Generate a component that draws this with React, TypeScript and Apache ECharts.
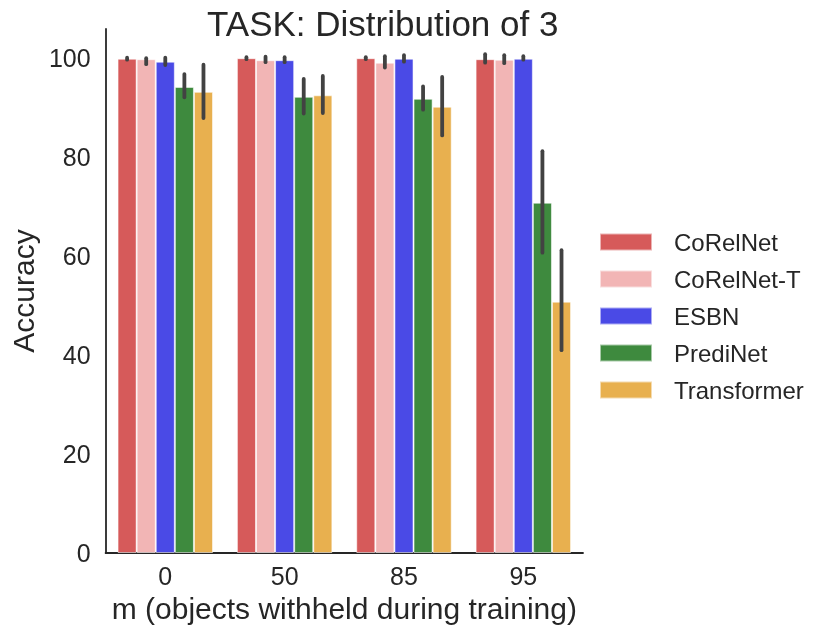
import React, { useEffect, useRef } from "react";
import * as echarts from "echarts";

const categories = ["0", "50", "85", "95"];
const models = ["CoRelNet", "CoRelNet-T", "ESBN", "PrediNet", "Transformer"];
const colors = ["#d65a5a", "#f2b5b5", "#4a4ae6", "#3e8a3e", "#e8b04f"];

const corelnet = [99.9, 100.0, 100.0, 99.8];
const corelnetLo = [99.7, 99.8, 99.8, 99.1];
const corelnetHi = [100.1, 100.2, 100.2, 100.8];

const corelnetT = [99.8, 99.6, 99.1, 99.7];
const corelnetTLo = [98.8, 99.2, 98.1, 99.0];
const corelnetTHi = [100.0, 100.3, 100.4, 100.6];

const esbn = [99.3, 99.6, 99.9, 99.9];
const esbnLo = [98.6, 99.2, 99.3, 99.7];
const esbnHi = [100.1, 100.2, 100.6, 100.4];

const predinet = [94.2, 92.2, 91.8, 70.8];
const predinetLo = [92.1, 88.8, 89.6, 60.7];
const predinetHi = [96.8, 95.8, 94.3, 81.2];

const transformer = [93.2, 92.5, 90.2, 50.8];
const transformerLo = [87.9, 88.9, 84.4, 41.0];
const transformerHi = [98.7, 96.4, 96.2, 61.2];

const yTicks = [0, 20, 40, 60, 80, 100];

const values = [corelnet, corelnetT, esbn, predinet, transformer];
const lows = [corelnetLo, corelnetTLo, esbnLo, predinetLo, transformerLo];
const highs = [corelnetHi, corelnetTHi, esbnHi, predinetHi, transformerHi];

const FONT = "Liberation Sans, Arial, sans-serif";
const TEXT = "#262626";

export default function App() {
  const ref = useRef<HTMLDivElement>(null);
  useEffect(() => {
    if (!ref.current) return;
    const chart = echarts.init(ref.current, undefined, { renderer: "svg" });
    const barSeries = models.map((m, k) => ({
      name: m,
      type: "bar",
      data: values[k],
      barGap: "0%",
      barCategoryGap: "20%",
      itemStyle: { color: colors[k], borderColor: "rgba(255,255,255,0.55)", borderWidth: 1 },
      z: 2,
    }));
    const errSeries = models.map((m, k) => ({
      name: m + " CI",
      type: "custom",
      z: 5,
      data: categories.map((_, i) => [i, lows[k][i], highs[k][i]]),
      encode: { x: 0, y: [1, 2] },
      renderItem: (params: any, api: any) => {
        const ci = api.value(0);
        const lo = api.value(1);
        const hi = api.value(2);
        const bw = (api.size([1, 0])[0] * 0.8) / 5;
        const p1 = api.coord([ci, lo]);
        const p2 = api.coord([ci, hi]);
        const x = p1[0] + (k - 2) * bw;
        return {
          type: "line",
          shape: { x1: x, y1: p1[1], x2: x, y2: p2[1] },
          style: { stroke: "#424242", lineWidth: 3.8, lineCap: "round" },
        };
      },
    }));
    chart.setOption({
      animation: false,
      textStyle: { fontFamily: FONT },
      title: {
        text: "TASK: Distribution of 3",
        left: 202,
        top: 1,
        textStyle: { fontFamily: FONT, fontSize: 35, fontWeight: "normal", color: TEXT },
      },
      legend: {
        data: models,
        orient: "vertical",
        left: 594,
        top: 225,
        itemWidth: 52,
        itemHeight: 17,
        itemGap: 13,
        icon: "rect",
        textStyle: { fontFamily: FONT, fontSize: 24, color: TEXT, lineHeight: 24, padding: [0, 0, 0, 17] },
      },
      grid: { left: 103, right: 248, top: 29, bottom: 84, containLabel: false },
      xAxis: {
        type: "category",
        data: categories,
        name: "m (objects withheld during training)",
        nameLocation: "middle",
        nameGap: 40,
        nameTextStyle: { fontFamily: FONT, fontSize: 30, color: TEXT },
        axisLine: { lineStyle: { color: TEXT, width: 1.8 } },
        axisTick: { show: false },
        axisLabel: { fontFamily: FONT, fontSize: 25, color: TEXT, margin: 10 },
      },
      yAxis: {
        type: "value",
        min: 0,
        max: 105.9,
        interval: 20,
        name: "Accuracy",
        nameLocation: "middle",
        nameGap: 65,
        nameTextStyle: { fontFamily: FONT, fontSize: 30, color: TEXT },
        axisLine: { show: true, lineStyle: { color: TEXT, width: 1.8 } },
        axisTick: { show: false },
        splitLine: { show: false },
        axisLabel: {
          fontFamily: FONT,
          fontSize: 25,
          color: TEXT,
          margin: 15,
          formatter: (v: number) => (yTicks.indexOf(Math.round(v * 10) / 10) >= 0 ? String(v) : ""),
        },
      },
      series: [...barSeries, ...errSeries],
    });
    return () => chart.dispose();
  }, []);
  return <div ref={ref} style={{ position: "fixed", left: 0, top: 0, width: 831, height: 637 }} />;
}
